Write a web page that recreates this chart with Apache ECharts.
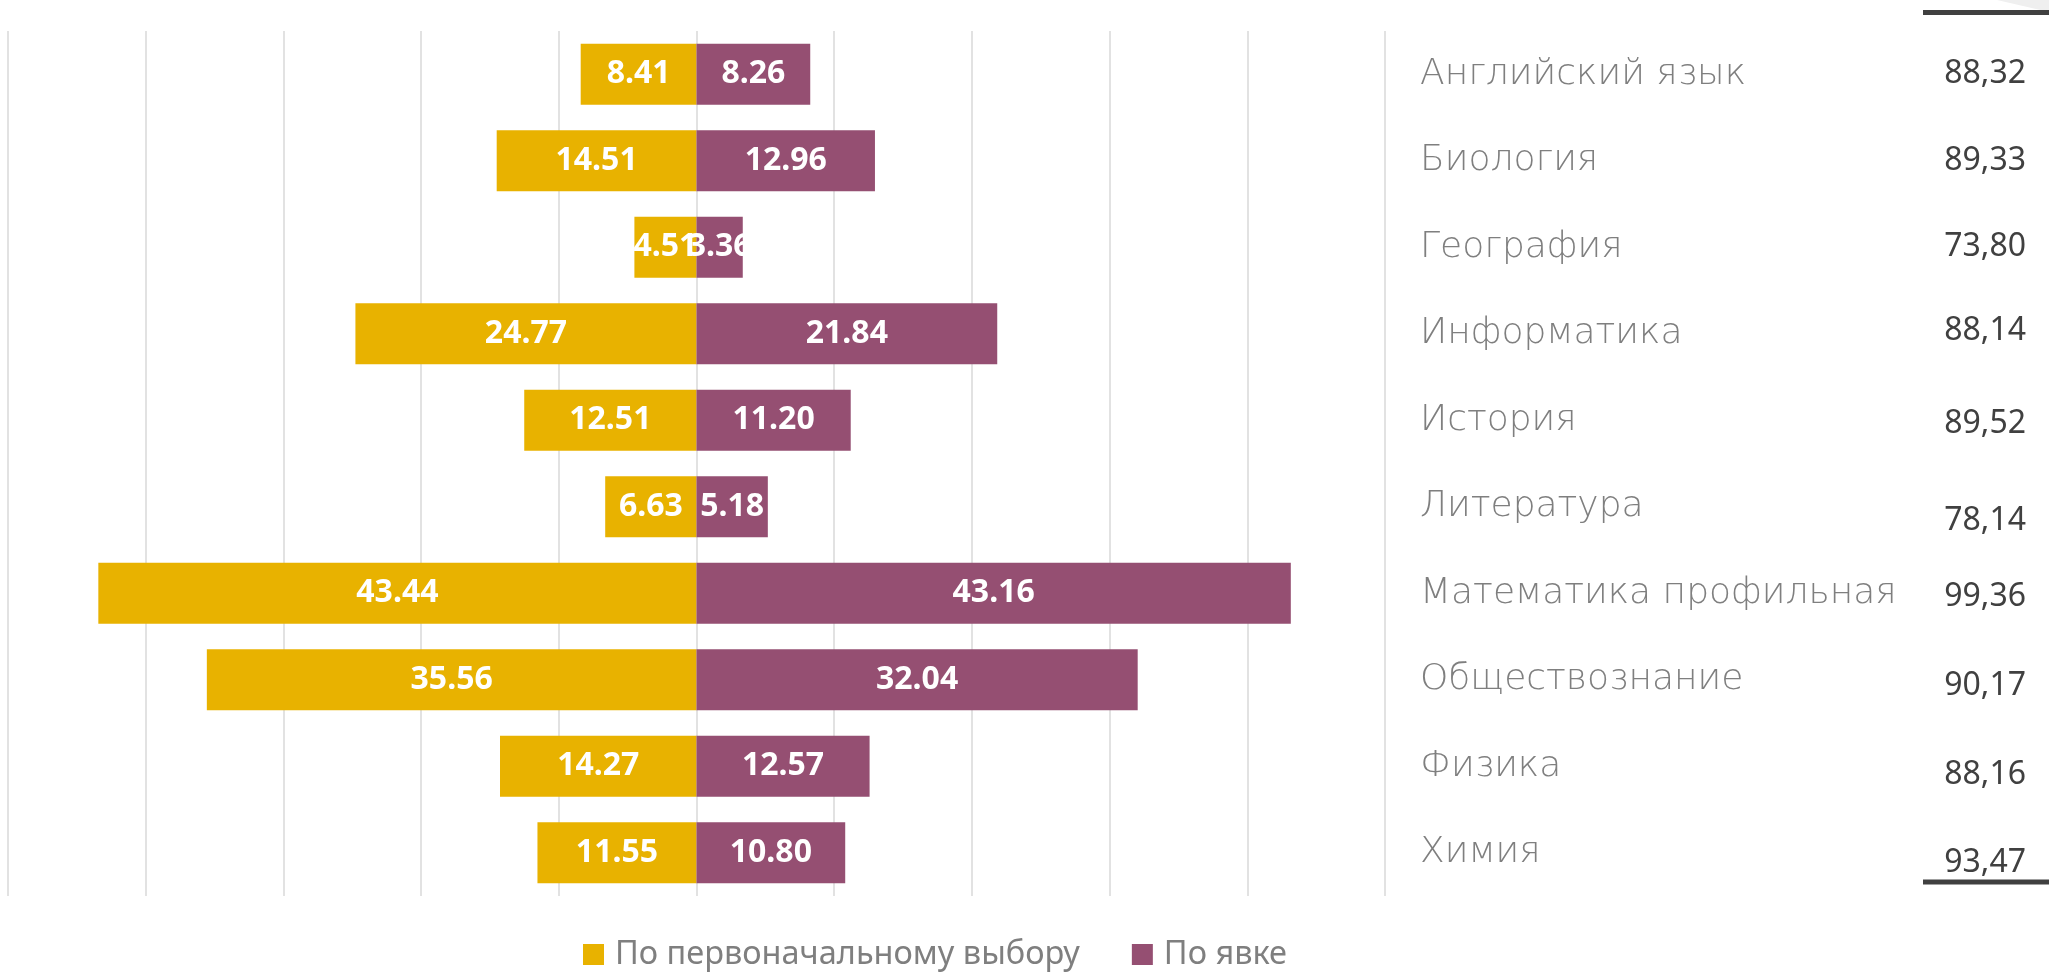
<!DOCTYPE html>
<html>
<head>
<meta charset="utf-8">
<script src="https://cdn.jsdelivr.net/npm/echarts@6/dist/echarts.min.js"></script>
<style>
  html, body { margin: 0; padding: 0; background: #fff; }
  #chart { width: 2049px; height: 972px; }
</style>
</head>
<body>
<div id="chart"></div>
<script>
const subjects = [
  'Английский язык', 'Биология', 'География', 'Информатика', 'История',
  'Литература', 'Математика профильная', 'Обществознание', 'Физика', 'Химия'
]
const initialChoice = [8.41, 14.51, 4.51, 24.77, 12.51, 6.63, 43.44, 35.56, 14.27, 11.55]
const attendance = [8.26, 12.96, 3.36, 21.84, 11.20, 5.18, 43.16, 32.04, 12.57, 10.80]
const attendanceRate = [88.32, 89.33, 73.80, 88.14, 89.52, 78.14, 99.36, 90.17, 88.16, 93.47]
const legendNames = ['По первоначальному выбору', 'По явке']

// the rate column is a separate table in the original, its rows sit a bit off the bars
const rateShift = [0, 0, 0, -3, 4, 14, 4, 6, 9, 10]

const myChart = echarts.init(document.getElementById('chart'))

const barLabel = {
  show: true,
  position: 'inside',
  color: '#fff',
  fontFamily: 'Noto Sans',
  fontWeight: 'bold',
  fontSize: 32,
  formatter: p => Math.abs(p.value).toFixed(2)
}

const rateRich = {}
rateShift.forEach((s, i) => {
  rateRich['r' + i] = {
    color: '#404040',
    fontFamily: 'Noto Sans',
    fontSize: 32,
    padding: s >= 0 ? [2 * s, 0, 0, 0] : [0, 0, -2 * s, 0]
  }
})

myChart.setOption({
  backgroundColor: '#fff',
  animation: false,
  grid: { left: 8, right: 664, top: 31, bottom: 76 },
  legend: {
    data: legendNames,
    left: 578,
    top: 933,
    icon: 'rect',
    itemWidth: 21,
    itemHeight: 21,
    itemGap: 52,
    textStyle: { color: '#7f7f7f', fontFamily: 'Noto Sans', fontSize: 32.5, padding: [0, 0, 0, 6] }
  },
  xAxis: {
    type: 'value',
    min: -50,
    max: 50,
    interval: 10,
    axisLine: { show: false },
    axisTick: { show: false },
    axisLabel: { show: false },
    splitLine: { lineStyle: { color: '#d9d9d9', width: 1.5 } }
  },
  yAxis: [
    {
      type: 'category',
      data: subjects,
      inverse: true,
      position: 'right',
      axisLine: { show: false },
      axisTick: { show: false },
      axisLabel: {
        margin: 35,
        align: 'left',
        color: '#7f7f7f',
        fontFamily: 'DejaVu Sans',
        fontWeight: 200,
        fontSize: 36
      }
    },
    {
      type: 'category',
      data: attendanceRate,
      inverse: true,
      position: 'right',
      axisLine: { show: false },
      axisTick: { show: false },
      axisLabel: {
        margin: 641,
        align: 'right',
        formatter: (v, i) => '{r' + i + '|' + Number(v).toFixed(2).replace('.', ',') + '}',
        rich: rateRich
      }
    }
  ],
  series: [
    {
      name: legendNames[0],
      type: 'bar',
      stack: 'total',
      barWidth: 61,
      itemStyle: { color: '#E8B200' },
      label: barLabel,
      data: initialChoice.map(v => -v)
    },
    {
      name: legendNames[1],
      type: 'bar',
      stack: 'total',
      barWidth: 61,
      itemStyle: { color: '#954F72' },
      label: barLabel,
      data: attendance
    }
  ],
  graphic: [
    {
      type: 'polygon',
      shape: { points: [[1997, 0], [2049, 0], [2049, 12]] },
      style: { fill: '#efefef' }
    },
    {
      type: 'line',
      shape: { x1: 1923, y1: 12.5, x2: 2049, y2: 12.5 },
      style: { stroke: '#404040', lineWidth: 5 }
    },
    {
      type: 'line',
      shape: { x1: 1923, y1: 882, x2: 2049, y2: 882 },
      style: { stroke: '#404040', lineWidth: 5 }
    }
  ]
})
</script>
</body>
</html>
